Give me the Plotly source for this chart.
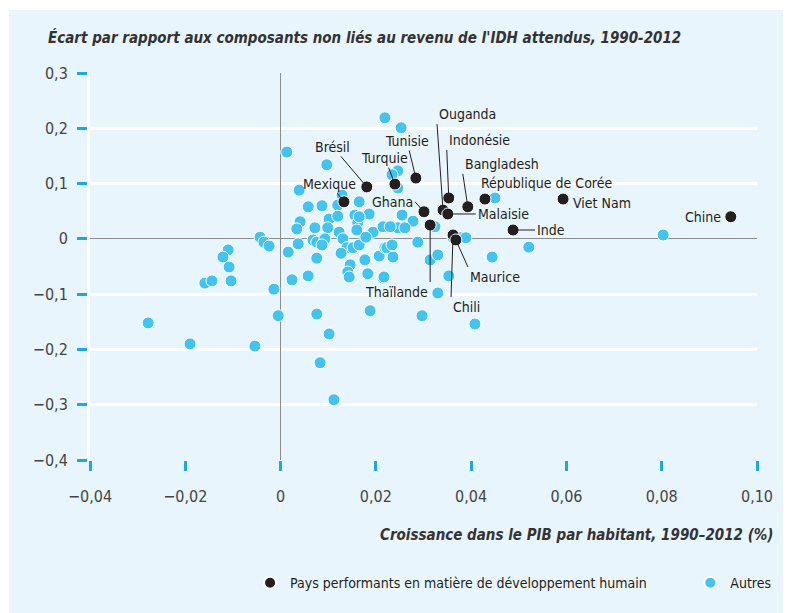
import plotly.graph_objects as go

# Pays performants en matière de développement humain
pays = ["Mexique", "Brésil", "Turquie", "Tunisie", "Ghana", "Thaïlande", "Ouganda",
        "Indonésie", "Malaisie", "Bangladesh", "République de Corée", "Viet Nam",
        "Chine", "Inde", "Chili", "Maurice"]
pays_x = [0.0133, 0.0181, 0.0240, 0.0284, 0.0301, 0.0314, 0.0341,
          0.0353, 0.0351, 0.0393, 0.0429, 0.0593,
          0.0945, 0.0488, 0.0362, 0.0368]
pays_y = [0.067, 0.094, 0.099, 0.110, 0.049, 0.025, 0.052,
          0.074, 0.045, 0.058, 0.072, 0.072,
          0.040, 0.016, 0.007, -0.002]

# Autres pays
autres_x = [-0.0278, -0.0190, -0.0054, -0.0159, -0.0144, -0.0104, -0.0110, -0.0121,
            -0.0108, -0.0043, -0.0035, -0.0024, -0.0014, -0.0005, 0.0016, 0.0024,
            0.0058, 0.0076, 0.0083, 0.0102, 0.0112, 0.0188, 0.0297, 0.0408,
            0.0330, 0.0013, 0.0097, 0.0039, 0.0219, 0.0253, 0.0246, 0.0234,
            0.0246, 0.0450, 0.0058, 0.0087, 0.0129, 0.0165, 0.0120, 0.0186,
            0.0041, 0.0034, 0.0072, 0.0102, 0.0099, 0.0120, 0.0123, 0.0156,
            0.0162, 0.0165, 0.0160, 0.0194, 0.0215, 0.0068, 0.0076, 0.0093,
            0.0087, 0.0037, 0.0131, 0.0139, 0.0127, 0.0152, 0.0165, 0.0179,
            0.0207, 0.0219, 0.0076, 0.0146, 0.0141, 0.0144, 0.0177, 0.0183,
            0.0215, 0.0255, 0.0278, 0.0246, 0.0230, 0.0261, 0.0324, 0.0288,
            0.0223, 0.0234, 0.0236, 0.0314, 0.0330, 0.0217, 0.0353, 0.0362,
            0.0377, 0.0389, 0.0444, 0.0521, 0.0803]
autres_y = [-0.152, -0.190, -0.194, -0.080, -0.076, -0.076, -0.020, -0.033,
            -0.051, 0.003, -0.006, -0.013, -0.091, -0.139, -0.024, -0.074,
            -0.067, -0.136, -0.224, -0.172, -0.291, -0.130, -0.139, -0.154,
            -0.098, 0.157, 0.134, 0.088, 0.219, 0.201, 0.123, 0.116,
            0.092, 0.074, 0.058, 0.060, 0.079, 0.067, 0.061, 0.045,
            0.031, 0.018, 0.020, 0.036, 0.020, 0.041, 0.012, 0.043,
            0.029, 0.040, 0.016, 0.012, 0.022, -0.002, -0.006, 0.000,
            -0.011, -0.009, 0.000, -0.016, -0.026, -0.016, -0.011, 0.003,
            -0.031, -0.016, -0.035, -0.047, -0.060, -0.069, -0.038, -0.063,
            -0.071, 0.043, 0.032, 0.020, 0.022, 0.020, 0.022, -0.006,
            -0.016, -0.011, -0.033, -0.038, -0.029, -0.069, -0.067, 0.002,
            0.002, 0.002, -0.033, -0.015, 0.007]

x_ticks = [-0.04, -0.02, 0, 0.02, 0.04, 0.06, 0.08, 0.10]
x_ticktext = ["\u22120,04", "\u22120,02", "0", "0,02", "0,04", "0,06", "0,08", "0,10"]
y_ticks = [0.3, 0.2, 0.1, 0, -0.1, -0.2, -0.3, -0.4]
y_ticktext = ["0,3", "0,2", "0,1", "0", "\u22120,1", "\u22120,2", "\u22120,3", "\u22120,4"]

FONT = "DejaVu Sans Condensed, DejaVu Sans, sans-serif"
BLUE = "#43C3F0"
BLACK = "#231F20"
PANEL = "#E9F5FC"
TICK_BLUE = "#1BA9E6"

# label placement: (ax, ay, xanchor, yanchor, arrow)
label_pos = {
    "Mexique": (-14, -18, "center", "middle", True),
    "Brésil": (-34, -40, "center", "middle", True),
    "Turquie": (-10, -26, "center", "middle", True),
    "Tunisie": (-9, -37, "center", "middle", True),
    "Ghana": (-9, -10, "right", "middle", True),
    "Thaïlande": (0, 57, "right", "top", True),
    "Ouganda": (-6, -86, "left", "bottom", True),
    "Indonésie": (-2, -48, "left", "bottom", True),
    "Malaisie": (28, 0, "left", "middle", True),
    "Bangladesh": (-5, -33, "left", "bottom", True),
    "République de Corée": (-6, 6, "left", "bottom", False),
    "Viet Nam": (8, -4, "left", "middle", False),
    "Chine": (-8, 0, "right", "middle", False),
    "Inde": (22, 0, "left", "middle", True),
    "Chili": (-2, 62, "left", "top", True),
    "Maurice": (12, 27, "left", "top", True),
}

fig = go.Figure()

fig.add_trace(go.Scatter(
    x=autres_x, y=autres_y, mode="markers", name="Autres", legend="legend2",
    marker=dict(color=BLUE, size=12, line=dict(color="white", width=1)),
    hoverinfo="skip",
))
fig.add_trace(go.Scatter(
    x=pays_x, y=pays_y, mode="markers", text=pays, legend="legend",
    name="Pays performants en matière de développement humain",
    marker=dict(color=BLACK, size=12, line=dict(color="white", width=1)),
))

annotations = []
for name, px_, py_ in zip(pays, pays_x, pays_y):
    ax, ay, xa, ya, arrow = label_pos[name]
    a = dict(x=px_, y=py_, text=name, xanchor=xa, yanchor=ya,
             font=dict(family=FONT, size=14, color=BLACK))
    if arrow:
        a.update(showarrow=True, ax=ax, ay=ay, arrowhead=0, arrowwidth=1,
                 arrowcolor=BLACK, standoff=0)
    else:
        a.update(showarrow=False, xshift=ax, yshift=ay)
    annotations.append(a)

annotations.append(dict(
    xref="paper", yref="paper", x=-0.066, y=1.093, xanchor="left", yanchor="middle",
    text="<b><i>Écart par rapport aux composants non liés au revenu de l'IDH attendus, 1990-2012</i></b>",
    showarrow=False, font=dict(family=FONT, size=15, color="#333333"),
))
annotations.append(dict(
    xref="paper", yref="paper", x=1.029, y=-0.194, xanchor="right", yanchor="middle",
    text="<b><i>Croissance dans le PIB par habitant, 1990–2012 (%)</i></b>",
    showarrow=False, font=dict(family=FONT, size=15, color="#333333"),
))

legend_style = dict(orientation="h", y=-0.318, xanchor="left", yanchor="middle",
                    font=dict(family=FONT, size=14, color=BLACK),
                    itemsizing="constant", bgcolor="rgba(0,0,0,0)")

# the page body adds an 8 px offset, so margins are shifted by 8 px
fig.update_layout(
    width=791, height=613,
    margin=dict(l=82, r=42, t=65, b=161, autoexpand=False),
    paper_bgcolor="white",
    plot_bgcolor="rgba(0,0,0,0)",
    separators=", ",
    font=dict(family=FONT, size=16, color="#444444"),
    showlegend=True,
    legend=dict(x=0.240, **legend_style),
    legend2=dict(x=0.900, **legend_style),
    annotations=annotations,
    shapes=[dict(type="rect", xref="paper", yref="paper", layer="below",
                 x0=-0.1214, x1=1.1, y0=-0.45, y1=1.1628,
                 fillcolor=PANEL, line=dict(width=0))],
)

fig.update_xaxes(
    range=[-0.04, 0.10], tickvals=x_ticks, ticktext=x_ticktext,
    showgrid=False, zeroline=True, zerolinecolor="#8C8C8C", zerolinewidth=1,
    ticks="outside", ticklen=10, tickwidth=3, tickcolor=TICK_BLUE,
    ticklabelstandoff=12, showline=False, automargin=False,
)
fig.update_yaxes(
    range=[-0.4, 0.3], tickvals=y_ticks, ticktext=y_ticktext,
    showgrid=True, gridcolor="white", gridwidth=3,
    zeroline=True, zerolinecolor="#8C8C8C", zerolinewidth=1,
    ticks="outside", ticklen=10, tickwidth=3, tickcolor=TICK_BLUE,
    ticklabelstandoff=6, showline=True, linecolor="white", linewidth=3,
    automargin=False,
)

fig.write_html("out.html")
